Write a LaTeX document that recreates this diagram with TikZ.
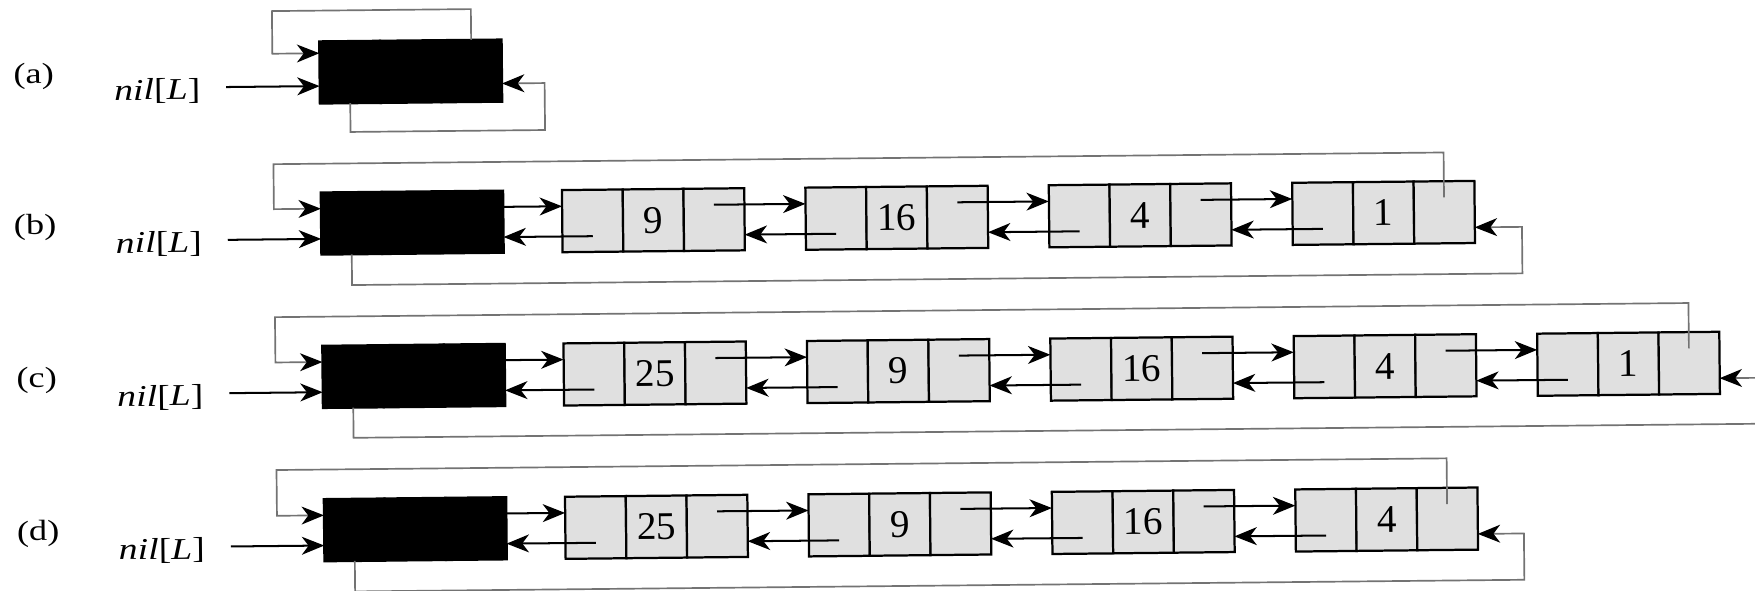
\documentclass[tikz,border=0pt]{standalone}
\usepackage{fontspec}
\setmainfont{Liberation Serif}
\usetikzlibrary{calc,arrows.meta}
\newcommand\mklnode[5]{%
  \node[#1] (#2p) at (#3,#4) {};
  \node[#1] (#2k) at (#2p.east) {#5};
  \node[#1] (#2n) at (#2k.east) {};
}
\newcommand\pup{13.25pt}
\newcommand\pdn{-13.75pt}
\newcommand\lnk[2]{%
  \draw[ptr] ([yshift=\pup]#1n.center) -- ([yshift=\pup]#2p.west);
  \draw[ptr] ([yshift=\pdn]#2p.center) -- ([yshift=\pdn]#1n.east);
}
\begin{document}
\begin{tikzpicture}[x=1pt,y=-1pt,
  cell/.style={draw=black,line width=2pt,fill=black!12,minimum width=54.33pt,minimum height=55.5pt,inner sep=0pt,outer sep=0pt,anchor=west,font=\fontsize{35}{35}\selectfont},
  scell/.style={cell,fill=black},
  ptr/.style={line width=1.8pt,-{Stealth[length=20pt,width=16pt,inset=6pt]}},
  loopln/.style={line width=1.5pt,draw=black!55,-{Stealth[length=20pt,width=16pt,inset=6pt,color=black]}},
  lbl/.style={font=\fontsize{26}{26}\selectfont,inner sep=0pt},
  nil/.style={font=\fontsize{27}{27}\selectfont,inner sep=0pt,text height=22pt,text depth=0.4pt,anchor=east}]
\fill[white] (0,0) rectangle (1568,528);
\useasboundingbox (0,0) rectangle (1568,528);
\clip (0,0) rectangle (1568,528);
\begin{scope}[rotate around={0.573:(784,264)},transform shape]
% ---------- row (a) ----------
\mklnode{scell}{sa}{287.5}{59.75}{}
\node[lbl] (la) at (32,60.5) {\scalebox{1.25}[1]{(a)}};
\node[nil] (na) at (181,71.95) {\scalebox{1.25}[1]{{\itshape nil}[{\itshape L}]}};
\draw[ptr] ([xshift=23pt]na.east) -- ([yshift=-12.2pt]sap.west);
\coordinate (ta) at (245.5,4.5);
\coordinate (ba) at (488.5,113.2);
\draw[loopln] (san.north) |- (ta) |- ([yshift=17.15pt]sap.west);
\draw[loopln] (sap.south) |- (ba) |- ([yshift=-11.5pt]san.east);
% ---------- row (b) ----------
\mklnode{scell}{sb}{287.5}{194.75}{}
\mklnode{cell}{b1}{503}{194.75}{9}
\mklnode{cell}{b2}{720.5}{194.75}{16}
\mklnode{cell}{b3}{938}{194.75}{4}
\mklnode{cell}{b4}{1155.5}{194.75}{1}
\node[lbl] (lb) at (32,195.5) {\scalebox{1.25}[1]{(b)}};
\node[nil] (nb) at (181,208.5) {\scalebox{1.25}[1]{{\itshape nil}[{\itshape L}]}};
\draw[ptr] ([xshift=23pt]nb.east) -- ([yshift=\pdn]sbp.west);
\lnk{sb}{b1}\lnk{b1}{b2}\lnk{b2}{b3}\lnk{b3}{b4}
\coordinate (tb) at (245.5,141.3);
\coordinate (bb) at (1360.5,250);
\draw[loopln] ([yshift=\pup]b4n.center) |- (tb) |- ([yshift=\pup]sbp.west);
\draw[loopln] (sbp.south) |- (bb) |- ([yshift=\pdn]b4n.east);
% ---------- row (c) ----------
\mklnode{scell}{sc}{287.5}{331.75}{}
\mklnode{cell}{c1}{503}{331.75}{25}
\mklnode{cell}{c2}{720.5}{331.75}{9}
\mklnode{cell}{c3}{938}{331.75}{16}
\mklnode{cell}{c4}{1155.5}{331.75}{4}
\mklnode{cell}{c5}{1373}{331.75}{1}
\node[lbl] (lc) at (32,332.5) {\scalebox{1.25}[1]{(c)}};
\node[nil] (nc) at (181,345.5) {\scalebox{1.25}[1]{{\itshape nil}[{\itshape L}]}};
\draw[ptr] ([xshift=23pt]nc.east) -- ([yshift=\pdn]scp.west);
\lnk{sc}{c1}\lnk{c1}{c2}\lnk{c2}{c3}\lnk{c3}{c4}\lnk{c4}{c5}
\coordinate (tc) at (245.5,278);
\coordinate (bc) at (1578,386.5);
\draw[loopln] ([yshift=\pup]c5n.center) |- (tc) |- ([yshift=\pup]scp.west);
\draw[loopln] (scp.south) |- (bc) |- ([yshift=\pdn]c5n.east);
% ---------- row (d) ----------
\mklnode{scell}{sd}{287.5}{468.75}{}
\mklnode{cell}{d1}{503}{468.75}{25}
\mklnode{cell}{d2}{720.5}{468.75}{9}
\mklnode{cell}{d3}{938}{468.75}{16}
\mklnode{cell}{d4}{1155.5}{468.75}{4}
\node[lbl] (ld) at (32,469.5) {\scalebox{1.25}[1]{(d)}};
\node[nil] (nd) at (181,482.5) {\scalebox{1.25}[1]{{\itshape nil}[{\itshape L}]}};
\draw[ptr] ([xshift=23pt]nd.east) -- ([yshift=\pdn]sdp.west);
\lnk{sd}{d1}\lnk{d1}{d2}\lnk{d2}{d3}\lnk{d3}{d4}
\coordinate (td) at (245.5,414.6);
\coordinate (bd) at (1359.5,523.8);
\draw[loopln] ([yshift=\pup]d4n.center) |- (td) |- ([yshift=\pup]sdp.west);
\draw[loopln] (sdp.south) |- (bd) |- ([yshift=\pdn]d4n.east);
\end{scope}
\end{tikzpicture}
\end{document}
